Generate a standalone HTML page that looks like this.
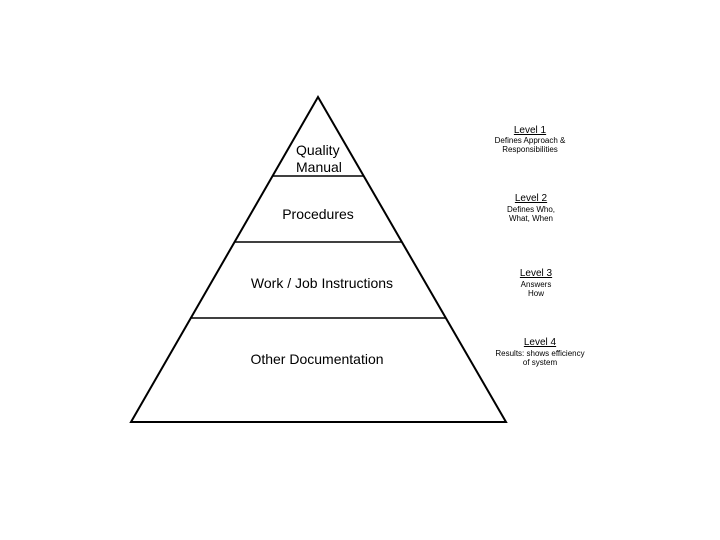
<!DOCTYPE html>
<html><head><meta charset="utf-8"><style>body{margin:0;background:#fff}svg{display:block}</style></head><body>
<svg width="720" height="540" viewBox="0 0 720 540" xmlns="http://www.w3.org/2000/svg" font-family="Liberation Sans, sans-serif">
<polygon points="318,97 131,422 506,422" fill="none" stroke="#000" stroke-width="2"/>
<line x1="272" y1="176" x2="364" y2="176" stroke="#000" stroke-width="1.5"/>
<line x1="234" y1="242" x2="402" y2="242" stroke="#000" stroke-width="1.5"/>
<line x1="190" y1="318" x2="446" y2="318" stroke="#000" stroke-width="1.5"/>
<g font-size="14" fill="#000">
<text x="296" y="155">Quality</text>
<text x="296" y="172">Manual</text>
<text x="318" y="219" text-anchor="middle">Procedures</text>
<text x="322" y="288" text-anchor="middle">Work / Job Instructions</text>
<text x="317" y="364" text-anchor="middle">Other Documentation</text>
</g>
<g font-size="10" text-anchor="middle" fill="#000">
<text x="530" y="133" text-decoration="underline">Level 1</text>
<text x="531" y="201" text-decoration="underline">Level 2</text>
<text x="536" y="276" text-decoration="underline">Level 3</text>
<text x="540" y="345" text-decoration="underline">Level 4</text>
</g>
<g font-size="8" text-anchor="middle" fill="#000">
<text x="530" y="143">Defines Approach &amp;</text>
<text x="530" y="152">Responsibilities</text>
<text x="531" y="212">Defines Who,</text>
<text x="531" y="221">What, When</text>
<text x="536" y="287">Answers</text>
<text x="536" y="296">How</text>
<text x="540" y="356">Results: shows efficiency</text>
<text x="540" y="365">of system</text>
</g>
</svg>
</body></html>
